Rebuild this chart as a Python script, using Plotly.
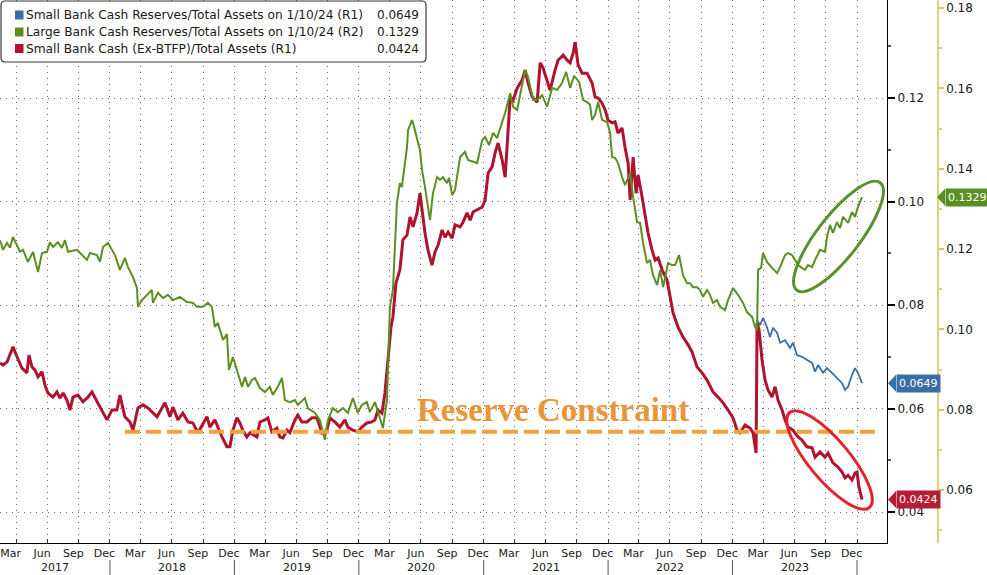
import numpy as np
import pandas as pd
import plotly.graph_objects as go

# ---------------- data (dates as decimal years) ----------------
GREEN_T = [2017.117, 2017.141, 2017.173, 2017.197, 2017.221, 2017.253, 2017.277, 2017.301, 2017.341, 2017.382,
           2017.422, 2017.454, 2017.494, 2017.518, 2017.542, 2017.582, 2017.614, 2017.639, 2017.663, 2017.735,
           2017.775, 2017.815, 2017.839, 2017.896, 2017.920, 2017.944, 2017.984, 2018.040, 2018.080, 2018.120,
           2018.145, 2018.185, 2018.217, 2018.225, 2018.257, 2018.297, 2018.337, 2018.345, 2018.386, 2018.426,
           2018.466, 2018.506, 2018.562, 2018.619, 2018.667, 2018.699, 2018.747, 2018.787, 2018.819, 2018.843,
           2018.867, 2018.908, 2018.940, 2018.956, 2018.988, 2019.020, 2019.061, 2019.085, 2019.109, 2019.141,
           2019.165, 2019.205, 2019.245, 2019.285, 2019.309, 2019.349, 2019.382, 2019.406, 2019.446, 2019.486,
           2019.510, 2019.566, 2019.590, 2019.647, 2019.687, 2019.727, 2019.751, 2019.791, 2019.831, 2019.872,
           2019.912, 2019.952, 2019.992, 2020.024, 2020.064, 2020.088, 2020.129, 2020.161, 2020.193, 2020.225,
           2020.249, 2020.273, 2020.305, 2020.329, 2020.345, 2020.386, 2020.394, 2020.426, 2020.434, 2020.490,
           2020.506, 2020.530, 2020.570, 2020.594, 2020.627, 2020.651, 2020.675, 2020.707, 2020.723, 2020.747,
           2020.771, 2020.811, 2020.851, 2020.875, 2020.916, 2020.948, 2020.988, 2021.012, 2021.044, 2021.076,
           2021.108, 2021.133, 2021.173, 2021.213, 2021.237, 2021.269, 2021.309, 2021.333, 2021.357, 2021.398,
           2021.430, 2021.470, 2021.510, 2021.550, 2021.590, 2021.630, 2021.663, 2021.695, 2021.727, 2021.767,
           2021.799, 2021.831, 2021.855, 2021.871, 2021.896, 2021.920, 2021.952, 2021.992, 2022.016, 2022.032,
           2022.056, 2022.080, 2022.112, 2022.136, 2022.177, 2022.201, 2022.233, 2022.257, 2022.281, 2022.313,
           2022.337, 2022.361, 2022.394, 2022.418, 2022.442, 2022.482, 2022.514, 2022.538, 2022.570, 2022.602,
           2022.634, 2022.659, 2022.683, 2022.715, 2022.739, 2022.763, 2022.795, 2022.819, 2022.843, 2022.875,
           2022.900, 2022.940, 2022.964, 2023.004, 2023.044, 2023.084, 2023.116, 2023.157, 2023.181, 2023.197,
           2023.205, 2023.229, 2023.245, 2023.277, 2023.317, 2023.358, 2023.382, 2023.422, 2023.446, 2023.478,
           2023.502, 2023.526, 2023.558, 2023.582, 2023.606, 2023.639, 2023.663, 2023.703, 2023.743, 2023.759,
           2023.783, 2023.807, 2023.839, 2023.863, 2023.888, 2023.928, 2023.960, 2023.984, 2024.008, 2024.040]
GREEN_V = [0.1222, 0.1198, 0.1215, 0.1203, 0.1230, 0.1210, 0.1193, 0.1198, 0.1168, 0.1193,
           0.1143, 0.1190, 0.1193, 0.1217, 0.1205, 0.1217, 0.1203, 0.1222, 0.1193, 0.1198,
           0.1185, 0.1173, 0.1190, 0.1185, 0.1168, 0.1205, 0.1215, 0.1185, 0.1148, 0.1178,
           0.1155, 0.1130, 0.1103, 0.1056, 0.1073, 0.1086, 0.1098, 0.1066, 0.1091, 0.1078,
           0.1086, 0.1073, 0.1081, 0.1068, 0.1066, 0.1056, 0.1056, 0.1066, 0.1056, 0.1006,
           0.1016, 0.0974, 0.0988, 0.0899, 0.0931, 0.0899, 0.0857, 0.0881, 0.0857, 0.0874,
           0.0879, 0.0854, 0.0844, 0.0857, 0.0837, 0.0857, 0.0879, 0.0824, 0.0819, 0.0824,
           0.0812, 0.0829, 0.0804, 0.0792, 0.0774, 0.0725, 0.0774, 0.0804, 0.0794, 0.0804,
           0.0792, 0.0829, 0.0792, 0.0812, 0.0819, 0.0794, 0.0819, 0.0787, 0.0754, 0.0824,
           0.1056, 0.1098, 0.1315, 0.1364, 0.1354, 0.1454, 0.1496, 0.1521, 0.1514, 0.1446,
           0.1397, 0.1354, 0.1272, 0.1339, 0.1379, 0.1372, 0.1379, 0.1364, 0.1377, 0.1334,
           0.1347, 0.1429, 0.1442, 0.1422, 0.1417, 0.1414, 0.1471, 0.1479, 0.1459, 0.1489,
           0.1476, 0.1501, 0.1539, 0.1588, 0.1554, 0.1546, 0.1603, 0.1646, 0.1628, 0.1571,
           0.1571, 0.1583, 0.1554, 0.1601, 0.1596, 0.1613, 0.1641, 0.1601, 0.1631, 0.1616,
           0.1571, 0.1566, 0.1559, 0.1521, 0.1534, 0.1566, 0.1521, 0.1516, 0.1489, 0.1429,
           0.1427, 0.1414, 0.1379, 0.1359, 0.1389, 0.1329, 0.1267, 0.1265, 0.1215, 0.1165,
           0.1173, 0.1135, 0.1110, 0.1148, 0.1105, 0.1165, 0.1160, 0.1160, 0.1185, 0.1135,
           0.1115, 0.1115, 0.1105, 0.1105, 0.1098, 0.1081, 0.1098, 0.1086, 0.1066, 0.1073,
           0.1056, 0.1048, 0.1073, 0.1103, 0.1086, 0.1066, 0.1043, 0.1031, 0.1006, 0.0998,
           0.1148, 0.1153, 0.1190, 0.1168, 0.1153, 0.1140, 0.1155, 0.1185, 0.1190, 0.1185,
           0.1173, 0.1160, 0.1153, 0.1148, 0.1160, 0.1155, 0.1173, 0.1198, 0.1193, 0.1230,
           0.1260, 0.1240, 0.1267, 0.1252, 0.1280, 0.1265, 0.1292, 0.1280, 0.1305, 0.1329]

BLUE_T = [2023.197, 2023.221, 2023.245, 2023.277, 2023.301, 2023.325, 2023.358, 2023.382, 2023.422, 2023.462,
          2023.486, 2023.518, 2023.558, 2023.598, 2023.639, 2023.663, 2023.687, 2023.727, 2023.759, 2023.799,
          2023.839, 2023.880, 2023.904, 2023.928, 2023.960, 2023.984, 2024.008, 2024.040]
BLUE_V = [0.0771, 0.0761, 0.0775, 0.0757, 0.0738, 0.0756, 0.0746, 0.0727, 0.0732, 0.0717,
          0.0727, 0.0703, 0.0700, 0.0694, 0.0688, 0.0671, 0.0684, 0.0669, 0.0678, 0.0669,
          0.0659, 0.0649, 0.0636, 0.0642, 0.0665, 0.0678, 0.0669, 0.0649]

RED_T = [2017.117, 2017.141, 2017.173, 2017.197, 2017.221, 2017.253, 2017.293, 2017.333, 2017.349, 2017.374,
         2017.398, 2017.422, 2017.454, 2017.478, 2017.502, 2017.542, 2017.574, 2017.598, 2017.623, 2017.655,
         2017.679, 2017.703, 2017.743, 2017.783, 2017.823, 2017.855, 2017.896, 2017.936, 2017.976, 2018.016,
         2018.056, 2018.080, 2018.120, 2018.161, 2018.185, 2018.225, 2018.265, 2018.305, 2018.345, 2018.378,
         2018.418, 2018.442, 2018.482, 2018.506, 2018.546, 2018.586, 2018.627, 2018.667, 2018.707, 2018.739,
         2018.779, 2018.803, 2018.843, 2018.900, 2018.940, 2018.964, 2018.988, 2019.020, 2019.044, 2019.068,
         2019.100, 2019.125, 2019.149, 2019.181, 2019.205, 2019.245, 2019.269, 2019.301, 2019.341, 2019.366,
         2019.390, 2019.422, 2019.446, 2019.486, 2019.510, 2019.542, 2019.582, 2019.623, 2019.663, 2019.703,
         2019.743, 2019.767, 2019.807, 2019.847, 2019.888, 2019.912, 2019.952, 2019.992, 2020.024, 2020.064,
         2020.104, 2020.129, 2020.153, 2020.185, 2020.209, 2020.233, 2020.257, 2020.273, 2020.297, 2020.329,
         2020.353, 2020.386, 2020.410, 2020.434, 2020.466, 2020.490, 2020.506, 2020.530, 2020.554, 2020.586,
         2020.610, 2020.635, 2020.667, 2020.691, 2020.715, 2020.747, 2020.771, 2020.811, 2020.835, 2020.867,
         2020.892, 2020.916, 2020.948, 2020.988, 2021.012, 2021.036, 2021.068, 2021.092, 2021.116, 2021.149,
         2021.173, 2021.197, 2021.213, 2021.237, 2021.269, 2021.309, 2021.333, 2021.357, 2021.390, 2021.430,
         2021.454, 2021.478, 2021.510, 2021.534, 2021.574, 2021.598, 2021.639, 2021.671, 2021.695, 2021.719,
         2021.735, 2021.759, 2021.791, 2021.831, 2021.871, 2021.896, 2021.920, 2021.952, 2021.976, 2022.000,
         2022.032, 2022.056, 2022.080, 2022.112, 2022.136, 2022.161, 2022.177, 2022.201, 2022.225, 2022.241,
         2022.273, 2022.297, 2022.321, 2022.353, 2022.378, 2022.402, 2022.434, 2022.474, 2022.498, 2022.522,
         2022.562, 2022.602, 2022.643, 2022.675, 2022.715, 2022.755, 2022.795, 2022.843, 2022.883, 2022.924,
         2022.964, 2023.004, 2023.036, 2023.060, 2023.100, 2023.141, 2023.165, 2023.189, 2023.197, 2023.213,
         2023.237, 2023.261, 2023.285, 2023.317, 2023.342, 2023.366, 2023.398, 2023.422, 2023.446, 2023.486,
         2023.526, 2023.558, 2023.598, 2023.639, 2023.663, 2023.703, 2023.743, 2023.767, 2023.807, 2023.847,
         2023.880, 2023.904, 2023.928, 2023.960, 2023.984, 2024.000, 2024.016, 2024.040]
RED_V = [0.0688, 0.0684, 0.0690, 0.0703, 0.0719, 0.0700, 0.0678, 0.0669, 0.0703, 0.0680,
         0.0674, 0.0661, 0.0671, 0.0645, 0.0630, 0.0622, 0.0632, 0.0620, 0.0630, 0.0616,
         0.0597, 0.0622, 0.0626, 0.0613, 0.0622, 0.0632, 0.0613, 0.0597, 0.0578, 0.0597,
         0.0597, 0.0626, 0.0584, 0.0574, 0.0558, 0.0601, 0.0607, 0.0601, 0.0591, 0.0584,
         0.0601, 0.0611, 0.0584, 0.0603, 0.0578, 0.0591, 0.0574, 0.0572, 0.0553, 0.0568,
         0.0584, 0.0564, 0.0578, 0.0545, 0.0526, 0.0526, 0.0558, 0.0582, 0.0572, 0.0558,
         0.0545, 0.0553, 0.0549, 0.0545, 0.0574, 0.0578, 0.0582, 0.0555, 0.0562, 0.0545,
         0.0543, 0.0558, 0.0553, 0.0578, 0.0587, 0.0574, 0.0574, 0.0582, 0.0582, 0.0553,
         0.0558, 0.0582, 0.0574, 0.0564, 0.0578, 0.0564, 0.0558, 0.0555, 0.0564, 0.0572,
         0.0574, 0.0578, 0.0597, 0.0591, 0.0630, 0.0694, 0.0757, 0.0777, 0.0842, 0.0868,
         0.0926, 0.0935, 0.0970, 0.0951, 0.0978, 0.1016, 0.0984, 0.0939, 0.0906, 0.0877,
         0.0902, 0.0916, 0.0945, 0.0931, 0.0941, 0.0929, 0.0955, 0.0951, 0.0960, 0.0978,
         0.0964, 0.0980, 0.0984, 0.0989, 0.1003, 0.1055, 0.1067, 0.1094, 0.1113, 0.1080,
         0.1047, 0.1152, 0.1202, 0.1196, 0.1219, 0.1235, 0.1254, 0.1229, 0.1202, 0.1192,
         0.1268, 0.1258, 0.1231, 0.1215, 0.1254, 0.1273, 0.1283, 0.1273, 0.1268, 0.1287,
         0.1308, 0.1264, 0.1248, 0.1248, 0.1229, 0.1202, 0.1200, 0.1190, 0.1177, 0.1157,
         0.1152, 0.1154, 0.1132, 0.1142, 0.1105, 0.1074, 0.1003, 0.1086, 0.1016, 0.1051,
         0.1009, 0.0970, 0.0939, 0.0906, 0.0887, 0.0891, 0.0868, 0.0848, 0.0815, 0.0785,
         0.0757, 0.0738, 0.0723, 0.0709, 0.0680, 0.0669, 0.0655, 0.0632, 0.0622, 0.0611,
         0.0597, 0.0582, 0.0558, 0.0553, 0.0568, 0.0562, 0.0553, 0.0514, 0.0765, 0.0752,
         0.0694, 0.0655, 0.0636, 0.0622, 0.0642, 0.0616, 0.0597, 0.0578, 0.0564, 0.0558,
         0.0545, 0.0539, 0.0526, 0.0524, 0.0506, 0.0516, 0.0506, 0.0514, 0.0495, 0.0487,
         0.0477, 0.0466, 0.0471, 0.0462, 0.0475, 0.0477, 0.0448, 0.0424]

LEGEND_NAMES = ["Small Bank Cash Reserves/Total Assets on 1/10/24 (R1)",
                "Large Bank Cash Reserves/Total Assets on 1/10/24 (R2)",
                "Small Bank Cash (Ex-BTFP)/Total Assets (R1)"]
LAST_VALUES = [0.0649, 0.1329, 0.0424]
CONSTRAINT_LEVEL = 0.0555
CONSTRAINT_START, CONSTRAINT_END = 2018.120, 2024.185
R1_TICKS = [0.04, 0.06, 0.08, 0.10, 0.12]
R1_MINOR = [0.05, 0.07, 0.09, 0.11, 0.13]
R2_TICKS = [0.06, 0.08, 0.10, 0.12, 0.14, 0.16, 0.18]
R2_MINOR = [0.05, 0.07, 0.09, 0.11, 0.13, 0.15, 0.17]
MONTHS = [("Mar", 3), ("Jun", 6), ("Sep", 9), ("Dec", 12)]
YEARS = [2017, 2018, 2019, 2020, 2021, 2022, 2023]
X_RANGE = ["2017-02-12 12:00", "2024-03-29"]
R1_RANGE = [0.03401, 0.13894]
R2_RANGE = [0.04682, 0.18199]

C_BLUE, C_GREEN, C_RED = "#3b6ea8", "#5b8f22", "#b0132f"
C_ORANGE = "#f0a03d"


def to_dt(years):
    out = []
    for y in years:
        yr = int(np.floor(y))
        s = pd.Timestamp(year=yr, month=1, day=1)
        e = pd.Timestamp(year=yr + 1, month=1, day=1)
        out.append(s + (e - s) * (y - yr))
    return out


W, H, MB = 987, 575, 32
PH = H - MB
PLOT_W = 887


def px(x):
    return x / W


def py(y):
    return 1 - y / PH


fig = go.Figure()
fig.add_trace(go.Scatter(x=to_dt(GREEN_T), y=GREEN_V, yaxis="y2", mode="lines",
                         line=dict(color=C_GREEN, width=2), hoverinfo="skip"))
fig.add_trace(go.Scatter(x=to_dt(BLUE_T), y=BLUE_V, mode="lines",
                         line=dict(color=C_BLUE, width=1.8), hoverinfo="skip"))
fig.add_trace(go.Scatter(x=to_dt(RED_T), y=RED_V, mode="lines",
                         line=dict(color=C_RED, width=3), hoverinfo="skip"))

# ticks / grid
quarters = pd.date_range("2017-04-01", "2024-01-01", freq="QS")
mtick, mtext = [], []
for yr in YEARS:
    for name, m in MONTHS:
        mtick.append(pd.Timestamp(year=yr, month=m, day=16))
        mtext.append(name)

GRID = dict(color="#6a6a6a", dash="1px,5px")
fig.update_layout(
    width=W, height=H, margin=dict(l=0, r=0, t=0, b=MB),
    paper_bgcolor="white", plot_bgcolor="white", showlegend=False,
    font=dict(family="DejaVu Sans", size=12, color="#1a1a1a"),
    xaxis=dict(domain=[0, PLOT_W / W], type="date", range=X_RANGE,
               tickvals=mtick, ticktext=mtext, ticks="", showgrid=False,
               tickfont=dict(size=11), showline=True, linecolor="black", linewidth=1,
               zeroline=False,
               minor=dict(tickvals=list(quarters), ticks="inside", ticklen=4, tickcolor="#333",
                          showgrid=True, gridcolor=GRID["color"], griddash=GRID["dash"], gridwidth=1)),
    yaxis=dict(range=R1_RANGE, side="right", anchor="x", tickvals=R1_TICKS, tickformat=".2f",
               ticks="outside", ticklen=7, tickwidth=2, tickcolor="black",
               showline=True, linecolor="black", linewidth=1,
               showgrid=True, gridcolor=GRID["color"], griddash=GRID["dash"], gridwidth=1,
               zeroline=False, tickfont=dict(size=12),
               minor=dict(tickvals=R1_MINOR, ticks="outside", ticklen=3, tickcolor="#555", showgrid=False)),
    yaxis2=dict(range=R2_RANGE, overlaying="y", side="right", anchor="free", position=938 / W,
                tickvals=R2_TICKS, tickformat=".2f", ticks="outside", ticklen=5, tickwidth=2,
                tickcolor="#d8c865", showline=True, linecolor="#dcd27c", linewidth=1.5,
                showgrid=False, zeroline=False, tickfont=dict(size=12),
                minor=dict(tickvals=R2_MINOR, ticks="outside", ticklen=3, tickcolor="#d8cf8a", showgrid=False)),
)

shapes = []
annotations = []

# year separators and labels
x0 = pd.Timestamp(X_RANGE[0])
x1 = pd.Timestamp(X_RANGE[1])
for yr in YEARS[1:] + [YEARS[-1] + 1]:
    shapes.append(dict(type="line", xref="x", yref="paper",
                       x0=pd.Timestamp(year=yr, month=1, day=1), x1=pd.Timestamp(year=yr, month=1, day=1),
                       y0=py(560), y1=py(575), line=dict(color="#555", width=1)))
for yr in YEARS:
    s = max(pd.Timestamp(year=yr, month=1, day=1), x0)
    e = min(pd.Timestamp(year=yr + 1, month=1, day=1), x1)
    annotations.append(dict(x=s + (e - s) / 2, y=py(567), xref="x", yref="paper", text=str(yr),
                            showarrow=False, font=dict(size=11, color="#1a1a1a"),
                            xanchor="center", yanchor="middle"))

# Reserve constraint
shapes.append(dict(type="line", xref="x", yref="y",
                   x0=to_dt([CONSTRAINT_START])[0], x1=to_dt([CONSTRAINT_END])[0],
                   y0=CONSTRAINT_LEVEL, y1=CONSTRAINT_LEVEL,
                   line=dict(color=C_ORANGE, width=4, dash="15px,6px"), layer="above"))
annotations.append(dict(x=to_dt([2021.558])[0], y=0.0598, xref="x", yref="y",
                        text="<b>Reserve Constraint</b>", showarrow=False,
                        font=dict(family="Liberation Serif", size=33, color="#ea9538"),
                        xanchor="center", yanchor="middle"))


def ellipse_path(cx, cy, a, b, ang):
    th = np.radians(ang)
    ux, uy = np.cos(th), np.sin(th)
    vx, vy = -np.sin(th), np.cos(th)
    k = 0.5523

    def P(c, s):
        X = cx + a * c * ux + b * s * vx
        Y = cy + a * c * uy + b * s * vy
        return f"{px(X):.5f},{py(Y):.5f}"
    segs = [((1, k), (k, 1), (0, 1)), ((-k, 1), (-1, k), (-1, 0)),
            ((-1, -k), (-k, -1), (0, -1)), ((k, -1), (1, -k), (1, 0))]
    p = "M" + P(1, 0)
    for c1, c2, e in segs:
        p += " C" + P(*c1) + " " + P(*c2) + " " + P(*e)
    return p + " Z"


shapes.append(dict(type="path", xref="paper", yref="paper", path=ellipse_path(838.5, 236.5, 68, 21, -52.2),
                   line=dict(color="#58922a", width=3)))
shapes.append(dict(type="path", xref="paper", yref="paper", path=ellipse_path(829.5, 460, 62, 20, 50),
                   line=dict(color="#e0232d", width=3)))


# legend box (rounded)
def rrect(xa, ya, xb, yb, r):
    pts = (f"M{px(xa + r)},{py(ya)} L{px(xb - r)},{py(ya)} Q{px(xb)},{py(ya)} {px(xb)},{py(ya + r)} "
           f"L{px(xb)},{py(yb - r)} Q{px(xb)},{py(yb)} {px(xb - r)},{py(yb)} "
           f"L{px(xa + r)},{py(yb)} Q{px(xa)},{py(yb)} {px(xa)},{py(yb - r)} "
           f"L{px(xa)},{py(ya + r)} Q{px(xa)},{py(ya)} {px(xa + r)},{py(ya)} Z")
    return pts


shapes.append(dict(type="path", xref="paper", yref="paper", path=rrect(1, 1, 426, 62, 4),
                   line=dict(color="#3a3a3a", width=1.2), fillcolor="white", layer="above"))
rows = [15, 32, 48.5]
for name, val, col, ry in zip(LEGEND_NAMES, LAST_VALUES, [C_BLUE, C_GREEN, C_RED], rows):
    shapes.append(dict(type="rect", xref="paper", yref="paper", x0=px(15), x1=px(23.5),
                       y0=py(ry + 4.5), y1=py(ry - 4.5), line=dict(width=0), fillcolor=col, layer="above"))
    annotations.append(dict(x=px(24), y=py(ry), xref="paper", yref="paper", text=name, showarrow=False,
                            xanchor="left", yanchor="middle", font=dict(size=12.2, color="#1a1a1a")))
    annotations.append(dict(x=px(421), y=py(ry), xref="paper", yref="paper", text=f"{val:.4f}",
                            showarrow=False, xanchor="right", yanchor="middle",
                            font=dict(size=12, color="#1a1a1a")))

# value tags on the axes
tags = [(LAST_VALUES[0], "y", C_BLUE, 888, 5175), (LAST_VALUES[1], "y2", C_GREEN, 937, 4017),
        (LAST_VALUES[2], "y", "#b51d35", 888, 5175)]
for val, yref, col, tip, ppu in tags:
    dy = 8.5 / ppu
    shapes.append(dict(type="path", xref="paper", yref=yref,
                       path=f"M{px(tip)},{val} L{px(tip + 8)},{val + dy} L{px(tip + 8)},{val - dy} Z",
                       line=dict(width=0), fillcolor=col, layer="above"))
    annotations.append(dict(x=px(tip + 7.5), y=val, xref="paper", yref=yref, text=f"{val:.4f}",
                            showarrow=False, xanchor="left", yanchor="middle", bgcolor=col,
                            borderpad=2, font=dict(size=11, color="white")))

fig.update_layout(shapes=shapes, annotations=annotations)
fig.write_html("out.html", config={"displayModeBar": False},
               post_script="document.body.style.margin='0';document.body.style.overflow='hidden';")
